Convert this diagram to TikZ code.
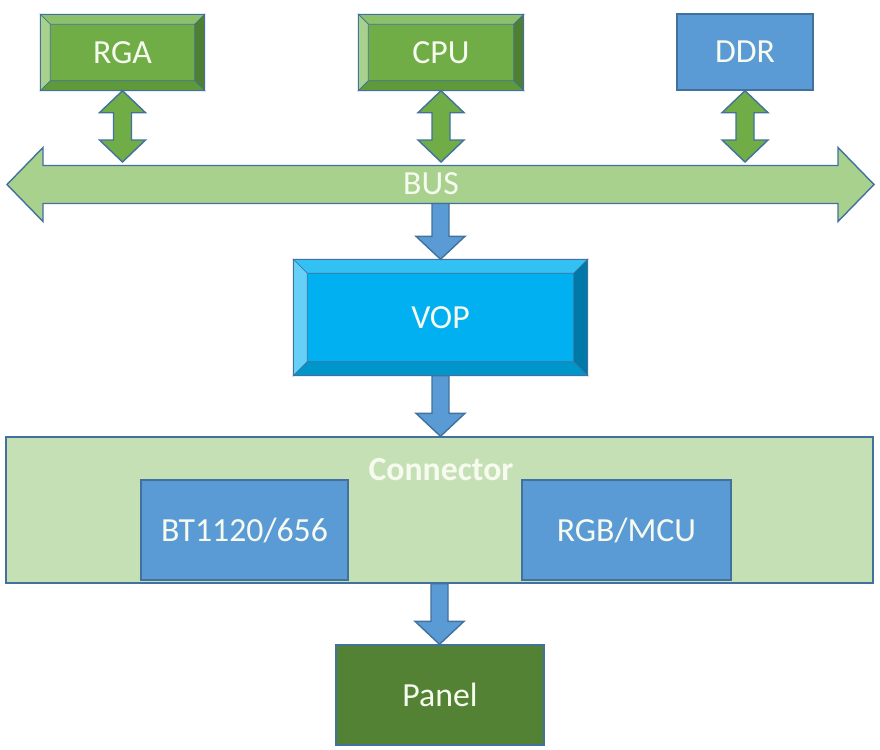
\documentclass[tikz,border=0pt]{standalone}
\usepackage{fontspec}
\setmainfont{Carlito}
\usepackage{tikz}
\usetikzlibrary{calc}

\definecolor{edgeblue}{HTML}{41719C}
\definecolor{boxtext}{HTML}{F7FBEF}
\definecolor{gmid}{HTML}{70AD47}
\definecolor{gtop}{HTML}{8DC06A}
\definecolor{gleft}{HTML}{A9D18E}
\definecolor{gright}{HTML}{4F7F32}
\definecolor{gbot}{HTML}{5E9A3A}
\definecolor{bmid}{HTML}{5B9BD5}
\definecolor{cmid}{HTML}{00B0F0}
\definecolor{ctop}{HTML}{33C0F3}
\definecolor{cleft}{HTML}{66D0F6}
\definecolor{cright}{HTML}{0079A8}
\definecolor{cbot}{HTML}{0096CC}
\definecolor{busfill}{HTML}{A9D18E}
\definecolor{connfill}{HTML}{C5E0B4}
\definecolor{pfill}{HTML}{548235}

\def\U{0.025cm}

% bevel faces on a box: name, depth, top, left, right, bottom
\newcommand\bevelfaces[6]{%
  \filldraw[#3, draw=edgeblue, line width=0.5pt] (#1.north west) -- (#1.north east) -- ($(#1.north east)+(-#2,#2)$) -- ($(#1.north west)+(#2,#2)$) -- cycle;
  \filldraw[#4, draw=edgeblue, line width=0.5pt] (#1.north west) -- ($(#1.north west)+(#2,#2)$) -- ($(#1.south west)+(#2,-#2)$) -- (#1.south west) -- cycle;
  \filldraw[#5, draw=edgeblue, line width=0.5pt] (#1.north east) -- (#1.south east) -- ($(#1.south east)+(-#2,-#2)$) -- ($(#1.north east)+(-#2,#2)$) -- cycle;
  \filldraw[#6, draw=edgeblue, line width=0.5pt] (#1.south west) -- (#1.south east) -- ($(#1.south east)+(-#2,-#2)$) -- ($(#1.south west)+(#2,-#2)$) -- cycle;
  \draw[edgeblue, line width=1pt] (#1.north west) rectangle (#1.south east);
}

% up/down block arrow between two points on one vertical
\newcommand\dblarrow[3]{%
  \draw[#3] (#1) -- ++(23,22) -- ++(-14,0) -- ($(#1|-#2)+(9,-22)$) -- ++(14,0) -- (#1|-#2)
    -- ++(-23,-22) -- ++(14,0) -- ($(#1)+(-9,22)$) -- ++(-14,0) -- cycle;
}

% downward block arrow
\newcommand\droparrow[3]{%
  \draw[#3] ($(#1)+(-8.5,0)$) -- ($(#1|-#2)+(-8.5,-23)$) -- ++(-16,0) -- (#1|-#2)
    -- ++(24.5,-23) -- ++(-16,0) -- ($(#1)+(8.5,0)$) -- cycle;
}

\begin{document}
\begin{tikzpicture}[x=0.025cm, y=-0.025cm,
    lbl/.style={font=\fontsize{24}{28}\selectfont, text=boxtext},
    blk/.style={lbl, draw=edgeblue, line width=1pt, inner sep=0pt},
    greenbox/.style={blk, fill=gmid},
    bluebox/.style={blk, fill=bmid},
    vopbox/.style={blk, fill=cmid},
    connbox/.style={blk, fill=connfill},
    panelbox/.style={blk, fill=pfill},
    greenarrow/.style={fill=gmid, draw=edgeblue, line width=1pt},
    bluearrow/.style={fill=bmid, draw=edgeblue, line width=1pt},
    busarrow/.style={fill=busfill, draw=edgeblue, line width=1pt},
]
\useasboundingbox (0,0) rectangle (880,749);

% ══════════════════════════════════════
% top row
% ══════════════════════════════════════
\node[greenbox, minimum width=163*\U, minimum height=75*\U] (rga) at (122.5,52.5) {};
\bevelfaces{rga}{10}{gtop}{gleft}{gright}{gbot}
\node[lbl] at (rga) {RGA};

\node[greenbox, minimum width=164*\U, minimum height=75*\U] (cpu) at (441,52.5) {};
\bevelfaces{cpu}{10}{gtop}{gleft}{gright}{gbot}
\node[lbl] at (cpu) {CPU};

\node[bluebox, minimum width=136*\U, minimum height=76*\U] (ddr) at (745,52) {DDR};

% ══════════════════════════════════════
% bus
% ══════════════════════════════════════
\coordinate (busL) at (7,184.5);
\coordinate (busR) at (874,184.5);
\coordinate (busTop) at (0,162);
\coordinate (busout) at (440.5,203.5);

\draw[busarrow] (busL) -- ++(36,-37) -- ++(0,18) -- ($(busR)+(-36,-19)$) -- ++(0,-18) -- (busR)
  -- ++(-36,37) -- ++(0,-18) -- ($(busL)+(36,19)$) -- ++(0,18) -- cycle;
\node[lbl] (bus) at (431,184) {BUS};

\dblarrow{rga.south}{busTop}{greenarrow}
\dblarrow{cpu.south}{busTop}{greenarrow}
\dblarrow{ddr.south}{busTop}{greenarrow}

% ══════════════════════════════════════
% VOP
% ══════════════════════════════════════
\node[vopbox, minimum width=293*\U, minimum height=115*\U] (vop) at (440.5,317.5) {};
\bevelfaces{vop}{14}{ctop}{cleft}{cright}{cbot}
\node[lbl] at (vop) {VOP};

\droparrow{busout}{vop.north}{bluearrow}

% ══════════════════════════════════════
% connector
% ══════════════════════════════════════
\node[connbox, minimum width=867*\U, minimum height=146*\U] (conn) at (439.5,510) {};
\node[lbl, font=\fontsize{24}{28}\selectfont\bfseries] (connlbl) at (441,470) {Connector};
\node[bluebox, minimum width=207*\U, minimum height=100*\U] (bt) at (244.5,530) {BT1120/656};
\node[bluebox, minimum width=209*\U, minimum height=100*\U] (rgb) at (626.5,530) {RGB/MCU};

\droparrow{vop.south}{conn.north}{bluearrow}

% ══════════════════════════════════════
% panel
% ══════════════════════════════════════
\node[panelbox, minimum width=208*\U, minimum height=100*\U] (panel) at (440,695) {Panel};

\droparrow{conn.south}{panel.north}{bluearrow}

\end{tikzpicture}
\end{document}
